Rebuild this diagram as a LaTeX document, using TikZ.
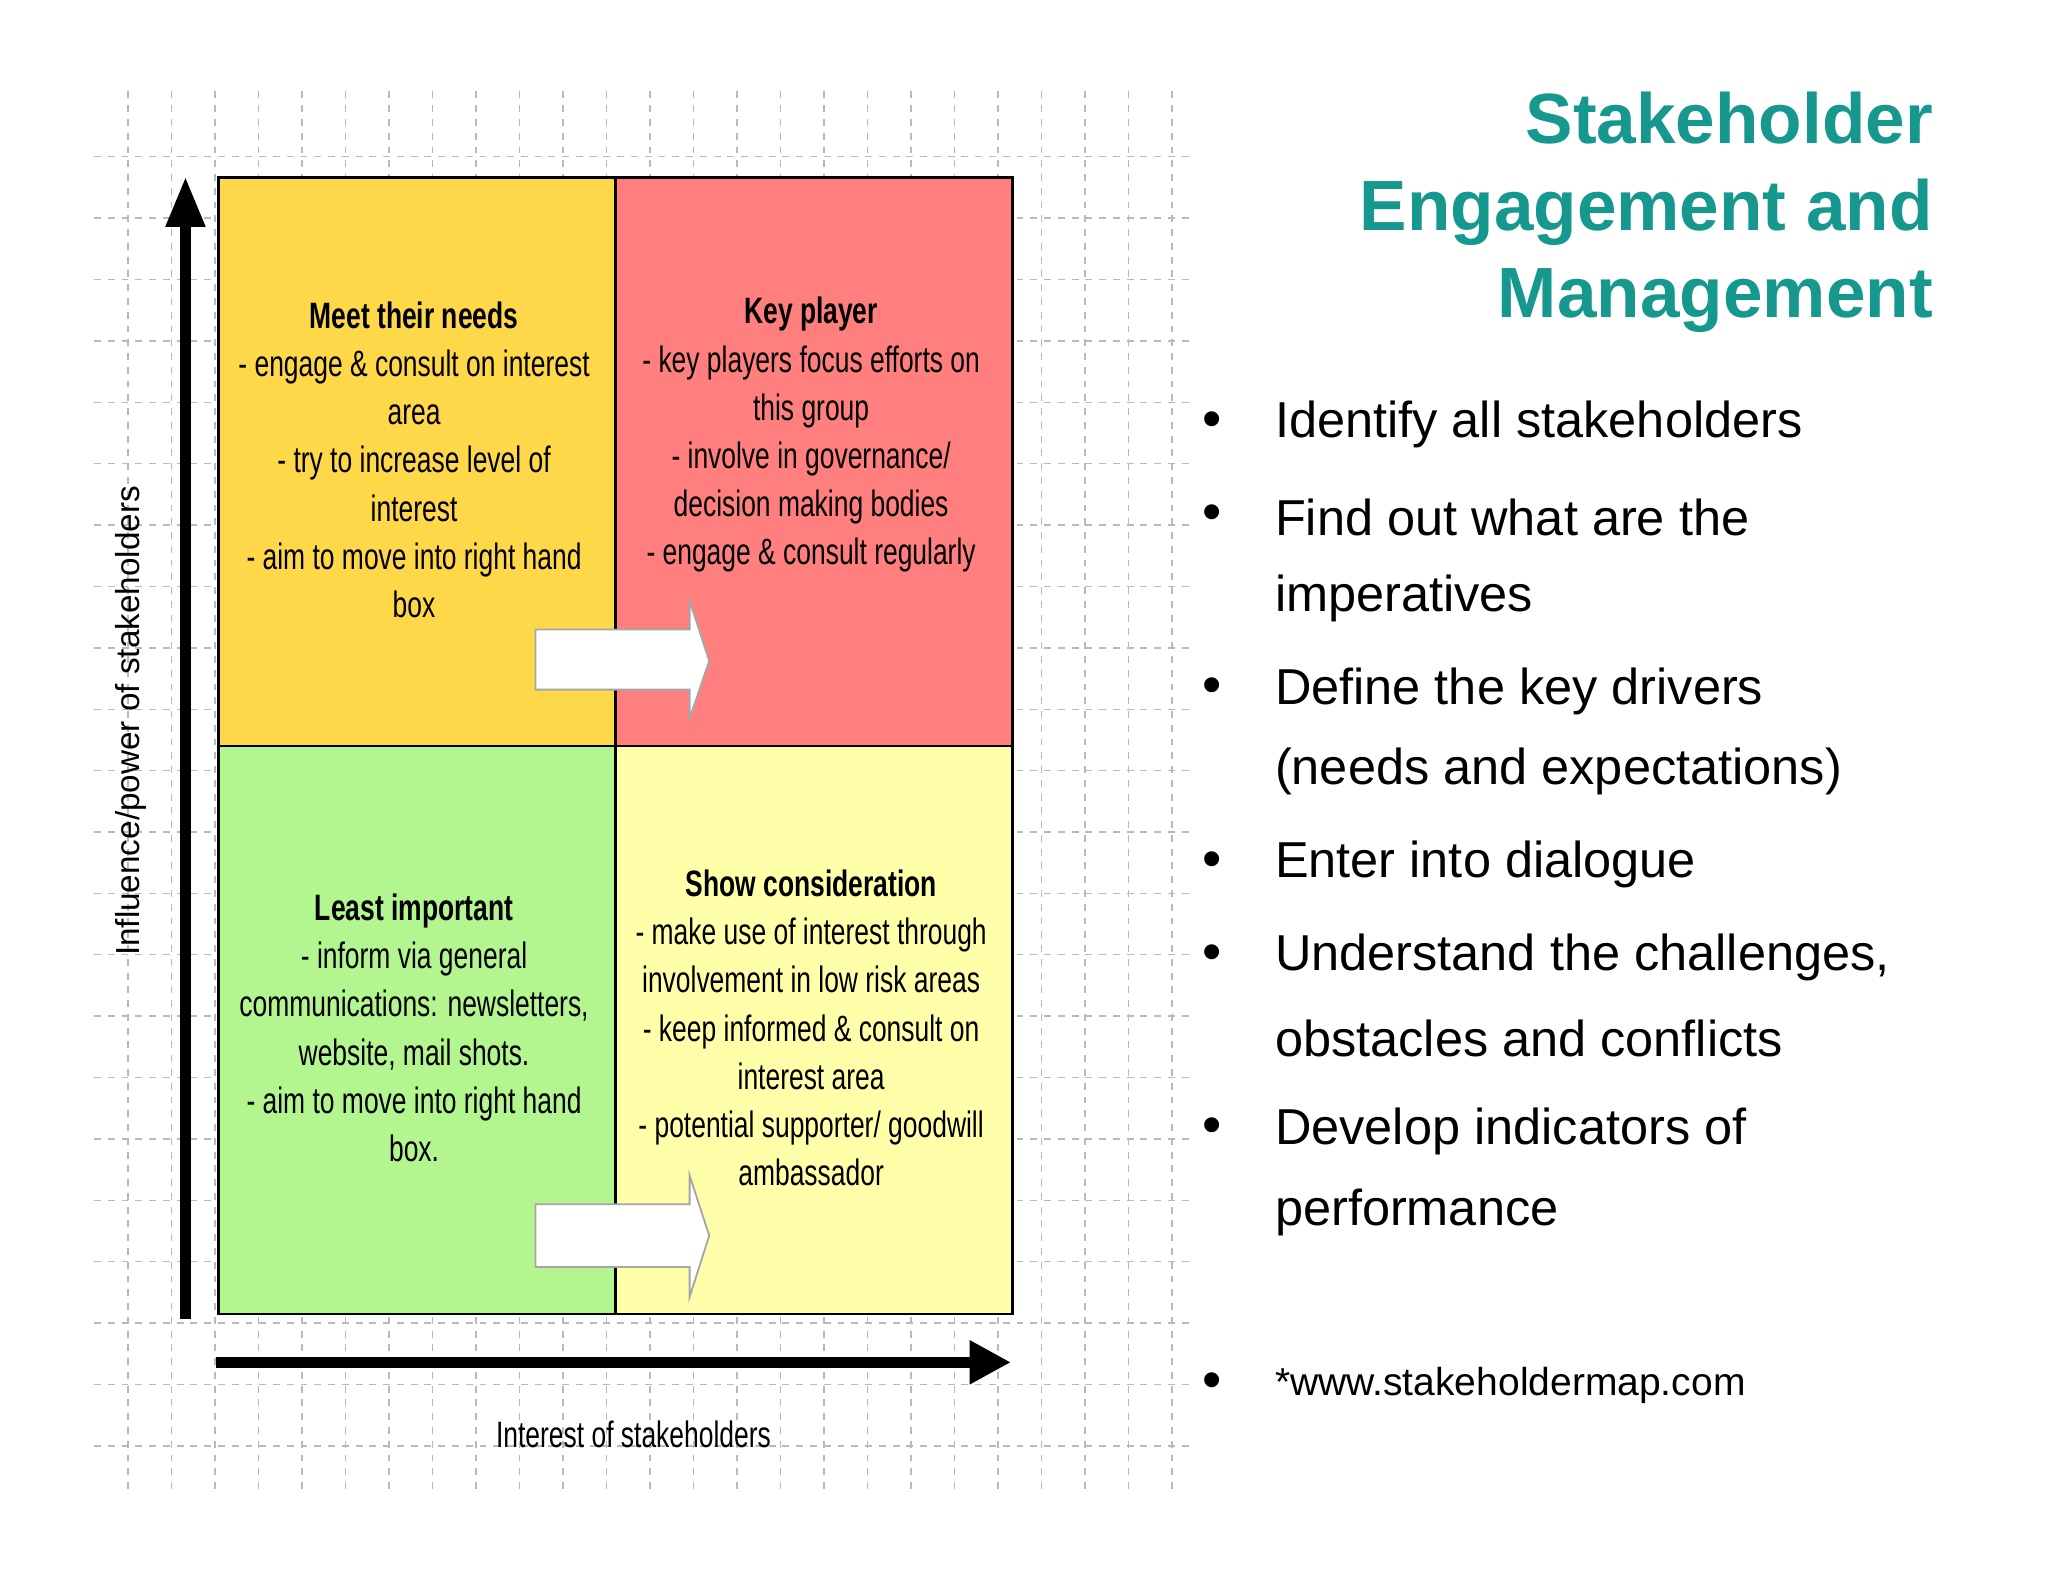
\documentclass[tikz,border=0pt]{standalone}
\usepackage{fontspec}
\setmainfont{Liberation Sans}
\newfontfamily\cond[FakeStretch=0.72]{Liberation Sans}
\usetikzlibrary{arrows.meta}
\definecolor{teal1}{HTML}{17988F}
\definecolor{qyel}{HTML}{FFD84A}
\definecolor{qred}{HTML}{FF7F7F}
\definecolor{qgrn}{HTML}{B3F58F}
\definecolor{qlyel}{HTML}{FFFFAA}
\tikzset{
 quad/.style={draw=black,line width=1.2pt,minimum width=304*0.02cm,minimum height=435*0.02cm,anchor=north west,inner sep=0pt},
 qtext/.style={align=center,font=\cond\fontsize{16}{21}\selectfont},
 bul/.style={anchor=west,font=\fontsize{22}{26}\selectfont},
 dot/.style={anchor=center,font=\fontsize{24}{26}\selectfont},
 blk/.style={draw=gray!70,fill=white,line width=0.8pt}
}
\begin{document}
\begin{tikzpicture}[x=0.02cm,y=-0.02cm]
\useasboundingbox (0,0) rectangle (1568,1211);
% grid
\foreach \i in {0,...,24} \draw[gray!55,dashed,line width=0.6pt] ({98+33.3*\i},70) -- ({98+33.3*\i},1140);
\foreach \j in {0,...,21} \draw[gray!55,dashed,line width=0.6pt] (72,{120+47*\j}) -- (912,{120+47*\j});
% quadrants
\node[quad,fill=qyel] (tl) at (166,135) {};
\node[quad,fill=qred] (tr) at (470,135) {};
\node[quad,fill=qgrn] (bl) at (166,570) {};
\node[quad,fill=qlyel] (br) at (470,570) {};
\node[qtext] (tlt) at (317,352) {\textbf{Meet their needs}\\- engage \& consult on interest\\area\\- try to increase level of\\interest\\- aim to move into right hand\\box};
\node[qtext] (trt) at (621,333) {\textbf{Key player}\\- key players focus efforts on\\this group\\- involve in governance/\\decision making bodies\\- engage \& consult regularly};
\node[qtext] (blt) at (317,787) {\textbf{Least important}\\- inform via general\\communications: newsletters,\\website, mail shots.\\- aim to move into right hand\\box.};
\node[qtext] (brt) at (621,787) {\textbf{Show consideration}\\- make use of interest through\\involvement in low risk areas\\- keep informed \& consult on\\interest area\\- potential supporter/ goodwill\\ambassador};
% block arrows
\draw[blk] (410,482) -- (528,482) -- (528,460) -- (543,506) -- (528,550) -- (528,528) -- (410,528) -- cycle;
\draw[blk] (410,922) -- (528,922) -- (528,900) -- (543,946) -- (528,993) -- (528,970) -- (410,970) -- cycle;
% axes
\coordinate (ya) at (142,1010); \coordinate (yb) at (142,135);
\coordinate (xa) at (165,1043); \coordinate (xb) at (774,1043);
\draw[line width=5pt,-{Triangle[length=22pt,width=16pt]}] (ya) -- (yb);
\draw[line width=5pt,-{Triangle[length=18pt,width=18pt]}] (xa) -- (xb);
\node[rotate=90,font=\fontsize{14.5}{16}\selectfont] (yl) at (100,552) {Influence/power of stakeholders};
\node[font=\cond\fontsize{16}{18}\selectfont] (xl) at (485,1098) {Interest of stakeholders};
% title
\node[anchor=north east,align=right,text=teal1,font=\bfseries\fontsize{31}{38}\selectfont] (title) at (1486,64) {Stakeholder\\Engagement and\\Management};
% bullets
\foreach \y in {325,396,529,662,733,866,1061}
 \node[dot] at (928,\y) {•};
\foreach \y/\t in {325/Identify all stakeholders,396/Find out what are the,458/imperatives,529/Define the key drivers,591/(needs and expectations),662/Enter into dialogue,733/{Understand the challenges,},795/obstacles and conflicts,866/Develop indicators of,928/performance}
 \node[bul] at (970,\y) {\t};
\node[anchor=west,font=\fontsize{17}{20}\selectfont] (web) at (970,1061) {*www.stakeholdermap.com};
\end{tikzpicture}
\end{document}
